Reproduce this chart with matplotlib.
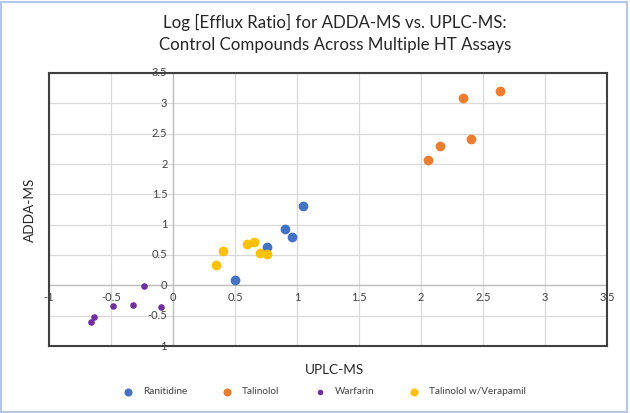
import matplotlib
matplotlib.use("Agg")
import matplotlib.pyplot as plt
from matplotlib.patches import Rectangle

plt.rcParams['font.family'] = ['Lato', 'DejaVu Sans']

ranitidine_x = [0.50, 0.76, 0.90, 0.96, 1.05]
ranitidine_y = [0.08, 0.63, 0.93, 0.80, 1.31]
talinolol_x = [2.06, 2.15, 2.34, 2.40, 2.64]
talinolol_y = [2.07, 2.30, 3.09, 2.42, 3.20]
warfarin_x = [-0.66, -0.64, -0.48, -0.32, -0.23, -0.10]
warfarin_y = [-0.60, -0.52, -0.34, -0.32, -0.01, -0.36]
verap_x = [0.35, 0.40, 0.60, 0.65, 0.70, 0.76]
verap_y = [0.34, 0.57, 0.68, 0.71, 0.53, 0.52]

x_ticks = [-1, -0.5, 0, 0.5, 1, 1.5, 2, 2.5, 3, 3.5]
y_ticks = [-1, -0.5, 0, 0.5, 1, 1.5, 2, 2.5, 3, 3.5]
x_labels = ['-1', '-0.5', '0', '0.5', '1', '1.5', '2', '2.5', '3', '3.5']
y_labels = ['-1', '-0.5', '0', '0.5', '1', '1.5', '2', '2.5', '3', '3.5']

fig = plt.figure(figsize=(6.3, 4.13), dpi=100)
ax = fig.add_axes([49/630, 1-346/413, (607-49)/630, (346-73)/413])
ax.set_xlim(-1, 3.5)
ax.set_ylim(-1, 3.5)
ax.set_xticks(x_ticks)
ax.set_yticks(y_ticks)
ax.tick_params(length=0, labelbottom=False, labelleft=False)
ax.grid(True, color='#D9D9D9', linewidth=0.9)
ax.set_axisbelow(True)
for s in ax.spines.values():
    s.set_color('#404040')
    s.set_linewidth(1.5)
ax.axhline(0, color='#BFBFBF', linewidth=1.0, zorder=1)
ax.axvline(0, color='#BFBFBF', linewidth=1.0, zorder=1)

for v, lab in zip(x_ticks, x_labels):
    ax.annotate(lab, xy=(v, 0), xytext=(0, -5), textcoords='offset points',
                ha='center', va='top', fontsize=8, color='#404040')
for v, lab in zip(y_ticks, y_labels):
    ax.annotate(lab, xy=(0, v), xytext=(-4, 0), textcoords='offset points',
                ha='right', va='center', fontsize=8, color='#404040')

ax.scatter(ranitidine_x, ranitidine_y, s=36, color='#4472C4', zorder=3, label='Ranitidine')
ax.scatter(talinolol_x, talinolol_y, s=36, color='#ED7D31', zorder=3, label='Talinolol')
ax.scatter(warfarin_x, warfarin_y, s=14, color='#7030A0', zorder=3, label='Warfarin')
ax.scatter(verap_x, verap_y, s=36, color='#FFC000', zorder=3, label='Talinolol w/Verapamil')

fig.text(335/630, 1-22/413, 'Log [Efflux Ratio] for ADDA-MS vs. UPLC-MS:', ha='center', va='center',
         fontsize=12.2, color='#262626')
fig.text(335/630, 1-45/413, 'Control Compounds Across Multiple HT Assays', ha='center', va='center',
         fontsize=12.2, color='#262626')
fig.text(335/630, 1-370/413, 'UPLC-MS', ha='center', va='center', fontsize=9.8, color='#262626')
fig.text(30/630, 1-210/413, 'ADDA-MS', ha='center', va='center', rotation=90, fontsize=9.8, color='#262626')

leg = fig.legend(loc='center', bbox_to_anchor=(322/630, 1-392/413), ncol=4, frameon=False,
                 fontsize=7.2, handletextpad=0.5, columnspacing=3.0, markerscale=0.8)
for t in leg.get_texts():
    t.set_color('#404040')

fig.patches.append(Rectangle((1/630, 1/413), 626/630, 410/413, transform=fig.transFigure,
                             fill=False, edgecolor='#B4C7E7', linewidth=1.5))

fig.savefig('out.png', dpi=100)
